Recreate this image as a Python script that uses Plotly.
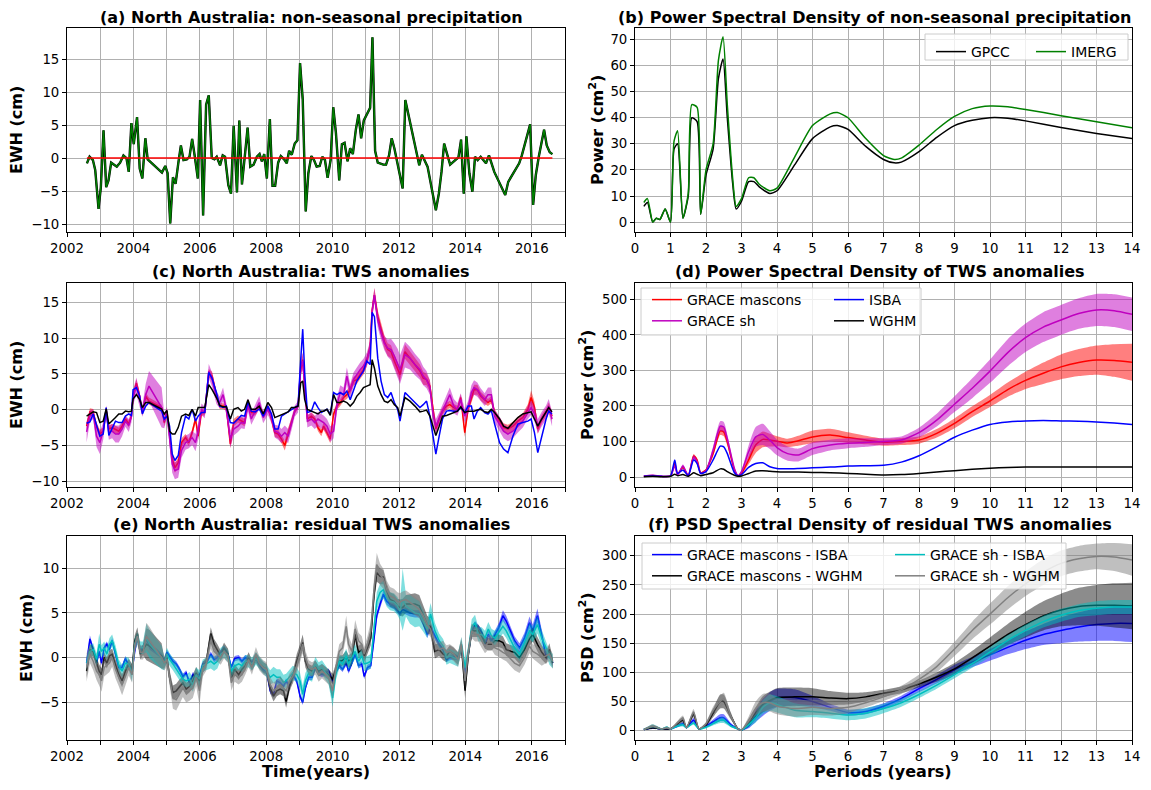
import plotly.graph_objects as go
from plotly.subplots import make_subplots

# the page body keeps an 8 px margin, so the figure is drawn 8 px in from the window edge
PAGE_W, PAGE_H, OFF = 1151, 790, 8
W, H = PAGE_W - 2 * OFF, PAGE_H - 2 * OFF


def px(x):
    return (x - OFF) / W


def py(y):
    return 1 - (y - OFF) / H


# ---------------- (a) non-seasonal precipitation ----------------
t_a = [2002.60, 2002.68, 2002.78, 2002.85, 2002.95, 2003.02, 2003.10, 2003.18, 2003.25, 2003.33,
       2003.50, 2003.60, 2003.70, 2003.79, 2003.86, 2003.94, 2004.01, 2004.11, 2004.19, 2004.27,
       2004.36, 2004.43, 2004.86, 2004.96, 2005.03, 2005.11, 2005.19, 2005.27, 2005.36, 2005.43,
       2005.51, 2005.61, 2005.69, 2005.77, 2005.85, 2005.94, 2006.01, 2006.10, 2006.19, 2006.27,
       2006.36, 2006.44, 2006.51, 2006.61, 2006.69, 2006.76, 2006.86, 2006.94, 2007.02, 2007.12,
       2007.19, 2007.27, 2007.37, 2007.44, 2007.52, 2007.62, 2007.72, 2007.80, 2007.87, 2007.94,
       2008.02, 2008.11, 2008.19, 2008.27, 2008.36, 2008.44, 2008.54, 2008.62, 2008.69, 2008.77,
       2008.86, 2008.94, 2009.02, 2009.10, 2009.19, 2009.27, 2009.36, 2009.44, 2009.52, 2009.61,
       2009.69, 2009.77, 2009.85, 2009.94, 2010.02, 2010.10, 2010.20, 2010.28, 2010.36, 2010.45,
       2010.53, 2010.61, 2010.70, 2010.78, 2010.86, 2010.94, 2011.13, 2011.20, 2011.28, 2011.36,
       2011.53, 2011.61, 2011.70, 2011.78, 2011.86, 2011.95, 2012.11, 2012.19, 2012.28, 2012.61,
       2012.69, 2012.78, 2012.86, 2013.11, 2013.20, 2013.28, 2013.36, 2013.46, 2013.54, 2013.79,
       2013.87, 2013.95, 2014.03, 2014.12, 2014.21, 2014.29, 2014.37, 2014.46, 2014.54, 2014.62,
       2014.71, 2014.79, 2014.87, 2015.20, 2015.29, 2015.62, 2015.70, 2015.95, 2016.04, 2016.12,
       2016.21, 2016.37, 2016.45, 2016.54, 2016.62]
precip = [-0.8, 0.2, -0.3, -1.8, -7.7, -4.4, 4.2, -4.4, -3.4, -0.7,
          -1.3, -0.7, 0.4, 0.0, -2.1, 5.3, 2.1, 6.2, -1.6, -3.1,
          3.0, -0.2, -2.2, -1.2, -2.3, -9.9, -2.9, -3.9, -0.5, 1.9,
          -0.3, -0.2, 0.2, 2.9, 0.2, -3.1, 8.8, -8.7, 8.1, 9.5,
          0.0, -0.2, 0.2, -1.1, 0.4, 0.2, -4.1, -5.4, 4.9, -5.2,
          5.7, -4.0, 1.0, 4.6, -1.3, -1.0, 0.2, 0.6, -0.5, 0.6,
          -3.1, 5.9, -4.2, -4.2, -0.7, 0.3, -0.2, -0.8, 1.1, 0.5,
          2.2, 2.7, 14.4, 8.9, -8.1, -2.3, 0.3, -0.3, -1.3, -1.2,
          0.2, -0.3, -3.0, -0.3, 7.7, 3.8, -3.4, 2.1, 2.3, -0.5,
          1.5, 0.6, 4.3, 6.6, 3.0, 5.7, 7.6, 18.3, 1.1, -0.7,
          -1.0, -1.0, 0.4, 3.0, 1.5, -0.6, -4.6, 8.8, 6.6, -1.1,
          0.5, -0.5, -1.3, -7.9, -5.4, -2.1, 2.2, 0.4, -1.0, 0.1,
          2.8, -5.4, 3.3, -2.3, -5.1, 0.2, -0.3, 0.2, -0.4, -0.8,
          0.4, -0.8, -2.1, -5.6, -3.6, -0.8, 0.4, 5.1, -7.1, -2.6,
          0.2, 4.3, 1.9, 0.9, 0.6]
zero_t = [2002.60, 2016.62]
zero_v = [0.0, 0.0]

# ---------------- (c) TWS anomalies ----------------
t_c = [2002.59, 2002.69, 2002.79, 2002.89, 2002.99, 2003.09, 2003.18, 2003.26, 2003.36, 2003.46,
       2003.56, 2003.66, 2003.76, 2003.86, 2003.94, 2003.99, 2004.09, 2004.19, 2004.27, 2004.37,
       2004.47, 2004.85, 2004.93, 2005.01, 2005.09, 2005.17, 2005.25, 2005.35, 2005.45, 2005.57,
       2005.67, 2005.77, 2005.87, 2005.95, 2006.05, 2006.15, 2006.27, 2006.37, 2006.50, 2006.60,
       2006.70, 2006.80, 2006.92, 2007.02, 2007.15, 2007.25, 2007.35, 2007.45, 2007.55, 2007.67,
       2007.79, 2007.91, 2008.05, 2008.16, 2008.26, 2008.36, 2008.46, 2008.56, 2008.66, 2008.76,
       2008.86, 2008.96, 2009.04, 2009.10, 2009.16, 2009.24, 2009.36, 2009.46, 2009.56, 2009.66,
       2009.73, 2009.83, 2009.93, 2010.03, 2010.13, 2010.23, 2010.33, 2010.43, 2010.53, 2010.63,
       2010.73, 2010.83, 2010.93, 2011.03, 2011.13, 2011.19, 2011.26, 2011.36, 2011.46, 2011.56,
       2011.66, 2011.76, 2011.86, 2011.96, 2012.03, 2012.18, 2012.33, 2012.48, 2012.63, 2012.73,
       2012.83, 2012.93, 2013.03, 2013.11, 2013.21, 2013.31, 2013.43, 2013.53, 2013.65, 2013.76,
       2013.86, 2013.98, 2014.08, 2014.18, 2014.26, 2014.36, 2014.46, 2014.58, 2014.68, 2014.78,
       2014.88, 2015.03, 2015.15, 2015.28, 2015.43, 2015.58, 2015.73, 2015.88, 2015.98, 2016.08,
       2016.18, 2016.30, 2016.43, 2016.51, 2016.61]
tws_mascons = [-2.3, -0.3, -0.4, -2.3, -3.4, -3.0, 0.05, -2.7, -2.5, -2.7,
               -3.0, -2.3, -1.3, -2.0, -0.9, 1.9, 3.7, 1.9, -0.4, 1.9,
               1.2, 0.3, -1.8, -0.2, -3.7, -6.9, -8.1, -7.4, -4.6, -3.9,
               -4.6, -3.2, -1.3, -3.7, -0.4, -0.4, 5.1, 4.7, 2.1, 0.5,
               0.5, 0.3, -4.8, -1.8, -1.3, -1.6, -1.8, 1.0, -0.4, -0.4,
               0.5, -0.6, 0.3, -1.3, -3.2, -3.4, -4.1, -5.0, -3.2, -1.8,
               -0.2, 0.5, 5.6, 7.0, 3.3, -1.3, -0.9, -1.3, -2.5, -3.2,
               -2.3, -3.2, -4.1, -0.6, 0.5, 1.0, 1.7, 2.1, 2.8, 4.0,
               4.2, 4.9, 5.6, 6.8, 8.8, 13.9, 16.0, 13.0, 11.2, 9.5,
               8.4, 8.1, 6.8, 5.8, 4.9, 8.1, 7.2, 6.3, 5.4, 4.4,
               4.2, 3.3, -0.4, -2.7, -1.3, -0.2, 0.5, 0.7, 0.3, 0.05,
               1.7, -3.2, 0.05, 1.7, 2.8, 2.8, 1.9, 1.4, 1.0, 1.4,
               -0.4, -1.6, -2.5, -2.7, -2.3, -1.6, -1.1, 0.05, 1.7, 0.3,
               -2.7, -1.3, -0.4, 0.3, -0.9]
tws_mascons_err = [0.5, 0.5, 0.5, 0.5, 0.6, 0.5, 0.4, 0.5, 0.5, 0.5,
                   0.5, 0.5, 0.4, 0.5, 0.4, 0.5, 0.6, 0.5, 0.4, 0.5,
                   0.5, 0.4, 0.5, 0.4, 0.6, 0.7, 0.7, 0.7, 0.6, 0.5,
                   0.5, 0.5, 0.5, 0.5, 0.4, 0.4, 0.6, 0.6, 0.5, 0.4,
                   0.4, 0.4, 0.6, 0.5, 0.5, 0.5, 0.5, 0.5, 0.4, 0.4,
                   0.4, 0.4, 0.4, 0.5, 0.6, 0.6, 0.6, 0.7, 0.6, 0.5,
                   0.4, 0.4, 0.7, 0.8, 0.6, 0.5, 0.5, 0.5, 0.5, 0.5,
                   0.5, 0.5, 0.6, 0.5, 0.5, 0.5, 0.5, 0.6, 0.6, 0.6,
                   0.6, 0.6, 0.7, 0.7, 0.8, 0.9, 1.0, 0.9, 0.9, 0.9,
                   0.9, 0.9, 0.9, 0.9, 0.9, 1.0, 1.0, 1.0, 0.9, 0.9,
                   0.8, 0.8, 0.7, 0.6, 0.6, 0.5, 0.5, 0.5, 0.5, 0.5,
                   0.5, 0.6, 0.5, 0.6, 0.7, 0.7, 0.6, 0.6, 0.5, 0.5,
                   0.5, 0.5, 0.6, 0.6, 0.6, 0.6, 0.6, 0.7, 1.0, 0.8,
                   0.7, 0.6, 0.6, 0.7, 0.6]
tws_sh = [-3.1, -0.9, -0.6, -3.7, -4.6, -3.0, -0.2, -3.2, -3.0, -3.4,
          -3.4, -2.7, -1.6, -2.2, -1.0, 1.7, 3.3, 1.4, -0.2, 2.1,
          3.3, 0.3, -1.6, -0.4, -4.1, -7.6, -8.5, -8.3, -5.7, -4.6,
          -4.4, -3.9, -4.6, -3.0, 0.05, -0.4, 5.4, 4.2, 1.7, 1.0,
          2.1, 0.05, -4.1, -2.7, -2.3, -1.8, -1.9, 0.7, -1.3, -0.2,
          1.0, -1.1, 0.05, -1.1, -3.0, -3.2, -3.7, -3.2, -3.7, -2.0,
          -0.2, 0.4, 6.1, 6.8, 2.8, -1.6, -1.3, -1.8, -1.3, -1.6,
          -1.8, -2.3, -3.4, -3.0, 0.7, 2.4, 2.1, 4.7, 2.6, 4.2,
          4.9, 5.6, 6.1, 7.0, 8.6, 13.7, 16.0, 12.5, 10.7, 9.3,
          8.6, 8.4, 7.5, 6.5, 5.6, 7.7, 7.2, 6.3, 5.6, 4.7,
          4.2, 3.1, -0.9, -2.3, -1.3, -0.2, 1.0, 2.1, 0.5, 0.05,
          1.4, -0.9, 0.3, 2.4, 3.1, 2.8, 2.1, 1.4, 2.1, 2.1,
          -0.9, -2.0, -3.0, -3.4, -3.0, -2.3, -1.6, -0.4, 0.3, -0.6,
          -2.3, -1.3, -0.4, 0.5, -1.3]
tws_sh_err = [1.5, 0.8, 0.7, 1.5, 1.6, 1.2, 0.8, 1.0, 1.0, 1.2,
              1.2, 1.0, 0.8, 0.9, 0.8, 1.0, 1.2, 1.0, 0.8, 1.5,
              2.1, 2.8, 1.0, 0.8, 1.2, 1.2, 1.2, 1.2, 1.0, 1.0,
              1.0, 1.0, 1.2, 1.2, 0.8, 0.8, 1.0, 1.0, 0.9, 0.8,
              1.0, 0.8, 1.2, 0.9, 0.8, 0.8, 0.8, 0.9, 0.8, 0.8,
              0.9, 0.8, 0.8, 0.8, 0.9, 1.0, 1.0, 1.0, 1.0, 0.9,
              0.8, 0.8, 1.2, 1.2, 1.0, 0.9, 0.9, 0.9, 1.0, 1.0,
              1.0, 1.0, 1.1, 1.0, 1.0, 1.0, 1.0, 1.2, 1.0, 1.0,
              1.0, 1.0, 1.0, 1.0, 1.0, 1.0, 1.0, 1.0, 1.0, 1.0,
              1.2, 1.5, 1.8, 2.0, 2.0, 1.8, 1.6, 1.5, 1.4, 1.3,
              1.2, 1.0, 1.0, 1.0, 0.9, 0.9, 1.0, 1.0, 1.0, 0.9,
              0.9, 1.0, 0.9, 1.0, 1.0, 1.0, 0.9, 0.9, 1.0, 1.0,
              0.9, 1.0, 1.0, 1.0, 1.0, 0.9, 0.9, 0.9, 1.0, 1.0,
              1.0, 1.0, 1.0, 1.0, 1.0]
tws_isba = [-1.9, -1.7, -0.6, -2.3, -3.7, -3.4, 0.3, -3.6, -2.5, -1.6,
            -1.8, -1.8, -0.9, -0.6, -0.8, 2.8, 3.1, 1.9, -0.6, 0.5,
            1.0, -0.2, -1.3, -0.9, -2.3, -6.2, -7.1, -6.4, -3.2, -0.9,
            -1.3, 0.05, -1.6, -0.9, -0.4, -0.4, 5.2, 4.4, 2.4, 0.5,
            0.3, 0.5, -1.8, -1.9, -1.3, -0.8, -0.9, 1.1, -0.2, -0.3,
            0.1, -0.9, 0.5, -0.6, -2.7, -2.7, -0.9, -0.6, -0.4, -0.05,
            0.3, 0.6, 7.0, 11.25, 5.1, -0.4, -0.2, 1.1, 0.3, -0.4,
            -0.2, 0.05, -0.6, 2.4, 2.1, 2.4, 2.1, 2.6, 1.4, 2.8,
            4.0, 4.7, 5.4, 6.8, 6.3, 13.6, 13.0, 7.2, 4.0, 2.1,
            1.7, 2.4, 1.0, 0.05, -1.6, 2.4, 1.7, 1.0, 0.3, 0.7,
            1.2, -0.9, -3.7, -6.2, -3.7, -1.3, -0.2, -0.1, -0.2, -0.2,
            0.3, -0.4, 0.5, 0.5, -1.3, -0.2, 0.3, -0.4, -0.6, -0.1,
            -2.0, -4.6, -5.5, -6.0, -3.7, -2.0, -1.8, -1.6, -1.3, -3.2,
            -6.0, -3.7, -1.3, -0.2, -0.6]
tws_wghm = [-0.9, -0.6, -0.3, -0.4, -1.8, -1.6, 0.1, -2.0, -1.6, -1.1,
            -0.6, -0.6, -0.2, -0.3, -0.2, 1.5, 2.1, 1.4, 0.3, 1.0,
            1.0, 0.1, -0.6, -0.1, -3.0, -3.4, -3.4, -2.5, -0.9, -0.6,
            -0.8, 0.05, -0.9, 0.3, 0.3, 0.3, 3.5, 2.8, 1.7, 0.6,
            0.4, 0.4, -1.3, 0.05, 0.3, -0.2, 0.05, 1.4, 0.05, 0.05,
            0.5, -0.6, 1.0, 0.3, -1.1, -0.9, -0.6, -0.4, -0.3, 0.3,
            0.3, 0.5, 3.75, 4.0, 1.4, 0.05, -0.2, -0.4, -0.6, -0.2,
            -0.2, 0.05, -0.8, 2.1, 1.0, 1.0, 1.2, 1.0, 0.5, 1.0,
            1.9, 2.4, 3.1, 3.3, 3.5, 7.0, 5.8, 3.3, 2.1, 1.2,
            1.0, 1.4, 0.7, 0.3, -0.9, 1.7, 1.2, 0.5, -0.3, -0.2,
            -0.05, -0.9, -2.3, -3.6, -2.3, -0.9, -0.8, -0.6, -0.4, -0.2,
            0.4, -0.4, -0.2, -0.2, -0.2, -0.05, 0.05, -0.3, -0.4, 0.05,
            -0.4, -1.3, -2.3, -2.6, -1.8, -1.1, -0.6, -0.4, -0.3, -1.3,
            -2.3, -1.3, -0.4, 0.3, -0.3]

# ---------------- (e) residual TWS anomalies ----------------
t_e = [2002.59, 2002.69, 2002.79, 2002.89, 2002.97, 2003.04, 2003.12, 2003.20, 2003.28, 2003.36,
       2003.46, 2003.56, 2003.66, 2003.76, 2003.86, 2003.96, 2004.04, 2004.12, 2004.21, 2004.29,
       2004.39, 2004.49, 2004.85, 2004.93, 2005.01, 2005.09, 2005.19, 2005.29, 2005.39, 2005.49,
       2005.59, 2005.69, 2005.79, 2005.89, 2005.99, 2006.09, 2006.19, 2006.33, 2006.43, 2006.53,
       2006.63, 2006.73, 2006.85, 2006.95, 2007.05, 2007.17, 2007.27, 2007.37, 2007.47, 2007.57,
       2007.69, 2007.79, 2007.91, 2008.01, 2008.12, 2008.22, 2008.32, 2008.42, 2008.52, 2008.60,
       2008.70, 2008.80, 2008.92, 2009.02, 2009.10, 2009.18, 2009.28, 2009.38, 2009.48, 2009.58,
       2009.68, 2009.88, 2010.00, 2010.10, 2010.20, 2010.30, 2010.41, 2010.48, 2010.58, 2010.68,
       2010.78, 2010.88, 2010.95, 2011.05, 2011.15, 2011.25, 2011.33, 2011.43, 2011.53, 2011.63,
       2011.73, 2011.85, 2011.95, 2012.03, 2012.11, 2012.21, 2012.33, 2012.48, 2012.61, 2012.73,
       2012.85, 2012.95, 2013.08, 2013.21, 2013.33, 2013.43, 2013.53, 2013.65, 2013.78, 2013.88,
       2013.99, 2014.09, 2014.19, 2014.29, 2014.39, 2014.49, 2014.59, 2014.69, 2014.79, 2014.89,
       2015.01, 2015.13, 2015.23, 2015.38, 2015.48, 2015.63, 2015.78, 2015.93, 2016.03, 2016.17,
       2016.30, 2016.43, 2016.53, 2016.63]
res_mas_isba = [-0.6, 2.1, 0.9, -0.6, 0.7, -0.6, 1.1, 1.5, 0.9, 1.9,
                0.4, -1.1, -1.1, -0.1, -0.9, -1.5, 0.7, 2.2, 0.9, 1.1,
                2.2, 1.3, 0.2, -0.4, 0.6, 0.2, -0.4, -0.7, -1.3, -2.1,
                -1.7, -2.8, -1.9, -2.2, -2.1, -0.7, -0.6, 0.4, -0.2, 0.0,
                0.6, 1.1, 0.4, -1.1, -0.1, 0.0, -0.4, 0.0, -0.2, -0.6,
                0.0, -0.7, -1.3, -1.5, -3.7, -4.1, -2.6, -2.8, -3.2, -2.6,
                -3.2, -1.9, -2.6, -4.3, -5.0, -3.4, -2.2, -2.2, -1.1, -1.7,
                -1.9, -1.5, -2.6, -1.5, -0.9, -1.3, -0.6, -1.5, -0.6, 0.4,
                -0.9, -0.7, -2.1, -1.1, -0.9, 1.9, 4.7, 6.0, 7.1, 6.3,
                6.0, 5.8, 5.4, 5.0, 5.4, 5.2, 5.0, 4.9, 4.9, 3.9,
                2.6, 3.4, 2.4, 1.5, 0.9, -0.2, 0.0, 0.1, 0.0, 1.1,
                -1.9, 0.7, 3.0, 3.7, 3.2, 2.8, 1.5, 2.6, 1.9, 2.6,
                3.4, 4.7, 4.1, 2.8, 1.9, 1.1, 2.2, 3.9, 3.0, 4.7,
                2.6, 0.2, 0.6, -0.6]
res_mas_isba_err = [0.4, 0.4, 0.3, 0.3, 0.3, 0.3, 0.3, 0.3, 0.3, 0.3,
                    0.3, 0.3, 0.3, 0.3, 0.3, 0.3, 0.3, 0.3, 0.3, 0.3,
                    0.4, 0.4, 0.3, 0.3, 0.3, 0.3, 0.3, 0.3, 0.3, 0.3,
                    0.3, 0.3, 0.3, 0.3, 0.3, 0.3, 0.3, 0.3, 0.3, 0.3,
                    0.3, 0.3, 0.3, 0.3, 0.3, 0.3, 0.3, 0.3, 0.3, 0.3,
                    0.3, 0.3, 0.3, 0.3, 0.3, 0.3, 0.3, 0.3, 0.3, 0.3,
                    0.3, 0.3, 0.3, 0.3, 0.3, 0.3, 0.3, 0.3, 0.3, 0.3,
                    0.3, 0.3, 0.3, 0.3, 0.3, 0.3, 0.3, 0.3, 0.3, 0.3,
                    0.3, 0.3, 0.3, 0.3, 0.3, 0.4, 0.4, 0.4, 0.4, 0.4,
                    0.4, 0.4, 0.4, 0.4, 0.4, 0.4, 0.4, 0.4, 0.4, 0.4,
                    0.4, 0.4, 0.4, 0.3, 0.3, 0.3, 0.3, 0.3, 0.3, 0.3,
                    0.3, 0.3, 0.4, 0.4, 0.4, 0.4, 0.4, 0.4, 0.4, 0.4,
                    0.5, 0.6, 0.6, 0.5, 0.5, 0.5, 0.6, 0.7, 0.7, 0.8,
                    0.6, 0.5, 0.4, 0.3]
res_mas_wghm = [-1.5, 0.9, 0.7, -0.6, -1.5, -1.9, 0.0, -0.6, 0.2, 0.4,
                -0.7, -1.9, -2.6, -1.5, -0.7, -1.3, 1.9, 2.7, 0.4, 0.9,
                1.5, 1.3, 0.2, -0.6, 0.0, -2.2, -3.9, -3.7, -3.2, -2.8,
                -3.5, -3.2, -2.6, -1.7, -2.6, -1.1, -0.6, 2.7, 1.5, 0.9,
                0.2, 1.1, 0.4, -2.2, -1.3, -1.9, -1.3, -0.9, 0.0, -0.9,
                0.0, -0.6, -1.1, -1.3, -3.4, -4.3, -3.7, -3.5, -3.7, -4.9,
                -3.2, -2.2, -0.4, 0.7, 1.7, -0.4, -1.3, -1.5, -0.9, -1.5,
                -1.3, -1.9, -2.4, -1.3, -0.4, -0.3, 0.0, -0.4, -0.2, 2.6,
                0.6, 0.9, 0.2, 1.1, 2.2, 7.1, 9.5, 9.1, 9.0, 7.5,
                6.5, 6.3, 5.8, 5.6, 5.6, 6.0, 6.0, 6.0, 5.8, 4.7,
                3.7, 3.5, 0.7, 0.9, 0.4, 0.2, 0.7, 0.4, -0.1, 1.3,
                -3.7, 0.4, 3.0, 3.0, 3.0, 2.4, 1.7, 1.5, 1.5, 1.9,
                1.9, 1.7, 0.9, 0.7, 0.6, 0.0, 0.9, 2.1, 2.6, 1.5,
                0.6, 0.0, 0.9, -0.6]
res_mas_wghm_err = [0.8, 0.6, 0.6, 0.6, 0.7, 0.7, 0.6, 0.6, 0.6, 0.6,
                    0.6, 0.6, 0.7, 0.6, 0.6, 0.6, 0.6, 0.7, 0.6, 0.6,
                    1.8, 1.8, 1.4, 0.6, 0.6, 0.7, 0.8, 0.8, 0.8, 0.7,
                    0.7, 0.7, 0.7, 0.7, 0.8, 0.6, 0.6, 0.7, 0.6, 0.6,
                    0.6, 0.6, 0.6, 0.7, 0.6, 0.6, 0.6, 0.6, 0.6, 0.6,
                    0.6, 0.6, 0.6, 0.6, 0.6, 0.6, 0.6, 0.6, 0.6, 0.7,
                    0.6, 0.6, 0.8, 0.8, 0.9, 0.7, 0.6, 0.6, 0.6, 0.6,
                    0.6, 0.6, 0.6, 0.6, 0.6, 0.6, 0.8, 0.7, 0.7, 0.8,
                    0.7, 0.7, 0.7, 0.7, 0.8, 0.9, 1.0, 0.9, 0.8, 0.8,
                    0.8, 0.8, 0.8, 0.9, 1.0, 1.0, 1.1, 1.2, 1.2, 1.2,
                    1.0, 0.9, 0.8, 0.7, 0.7, 0.7, 0.7, 0.7, 0.7, 0.7,
                    0.8, 0.7, 0.7, 0.7, 0.7, 0.7, 0.7, 0.7, 0.7, 0.7,
                    0.7, 0.7, 0.7, 0.7, 0.7, 0.7, 0.7, 0.8, 0.8, 0.8,
                    0.8, 0.7, 0.7, 0.6]
res_sh_isba = [-0.6, 0.7, 0.9, -0.2, 1.5, 0.7, 1.1, 0.4, 1.5, 1.9,
               0.7, -0.9, -1.5, -0.6, -0.7, -1.9, 1.5, 2.2, 1.1, 1.1,
               2.2, 1.5, 0.0, -0.7, 0.4, -0.2, -0.7, -1.3, -1.9, -2.4,
               -2.6, -2.4, -3.0, -1.9, -2.4, -0.9, -0.7, -0.4, -0.7, -0.4,
               0.4, 0.7, 0.2, -1.5, -0.9, -0.7, -0.9, -0.4, -0.4, -0.7,
               -0.1, -0.6, -1.1, -1.5, -2.2, -1.9, -2.2, -2.2, -2.8, -2.6,
               -2.2, -1.7, -1.9, -2.6, -4.1, -2.6, -1.7, -1.9, -0.7, -1.3,
               -1.1, -2.2, -4.5, -1.7, -0.4, -0.7, 0.2, -0.7, 0.0, 0.7,
               -0.4, 0.2, -0.7, -0.6, -0.4, 3.7, 6.3, 7.3, 7.6, 6.7,
               6.3, 6.2, 5.8, 5.2, 6.5, 5.8, 5.4, 5.0, 4.9, 4.1,
               3.2, 4.9, 3.0, 1.9, 1.3, 0.0, 0.2, 0.0, -0.2, 1.5,
               -1.1, 0.7, 3.4, 3.9, 2.6, 2.6, 2.2, 3.2, 2.4, 2.2,
               2.8, 3.5, 3.0, 1.9, 1.1, 0.4, 1.7, 3.0, 2.6, 3.7,
               2.2, 1.1, 0.0, -0.4]
res_sh_isba_err = [0.7, 0.7, 0.7, 0.7, 1.2, 0.7, 0.7, 0.7, 0.7, 0.7,
                   0.7, 0.7, 0.7, 0.7, 0.7, 0.8, 0.7, 0.7, 0.7, 0.7,
                   1.6, 1.6, 1.3, 0.7, 0.7, 0.7, 0.7, 0.7, 0.7, 0.7,
                   0.7, 0.8, 0.8, 0.8, 1.0, 0.7, 0.7, 0.8, 0.8, 0.8,
                   0.7, 0.7, 0.7, 0.7, 0.7, 0.7, 0.7, 0.7, 0.7, 0.7,
                   0.7, 0.7, 0.7, 0.7, 0.8, 0.9, 0.9, 0.9, 0.9, 0.8,
                   0.8, 0.8, 0.8, 0.9, 1.0, 0.9, 0.8, 0.8, 0.8, 0.8,
                   0.8, 0.8, 1.0, 0.8, 0.8, 0.8, 0.8, 0.8, 0.8, 0.8,
                   0.8, 0.8, 0.8, 0.8, 0.8, 0.9, 1.0, 1.0, 1.0, 1.0,
                   1.0, 1.0, 1.0, 1.0, 3.5, 1.2, 1.6, 1.6, 1.4, 1.2,
                   1.0, 1.2, 0.9, 0.8, 0.8, 0.8, 0.8, 0.8, 0.8, 0.8,
                   0.8, 0.8, 0.9, 0.9, 0.8, 0.8, 0.8, 0.8, 0.8, 0.8,
                   0.8, 0.8, 0.8, 0.8, 0.8, 0.8, 0.8, 0.9, 0.9, 1.0,
                   0.9, 0.8, 0.8, 0.8]
res_sh_wghm = [-1.1, 0.4, -0.4, -1.5, -1.9, -2.6, -1.1, -0.9, -0.6, 0.0,
               -1.3, -2.2, -3.0, -2.1, -1.1, -1.9, 1.3, 2.4, 0.6, 0.6,
               2.4, 1.9, 0.0, -0.6, -0.2, -2.2, -4.5, -4.7, -4.1, -3.4,
               -3.9, -3.7, -3.4, -2.2, -3.7, -1.3, -0.7, 1.9, 0.7, 0.4,
               0.0, 0.7, 0.2, -2.8, -1.9, -2.2, -1.9, -1.1, -0.2, -1.1,
               0.4, -0.6, -1.1, -1.3, -3.0, -3.7, -3.4, -3.0, -3.4, -3.7,
               -2.6, -2.1, -0.9, 0.4, 1.5, 0.0, -1.1, -1.3, -1.1, -1.9,
               -1.5, -2.2, -3.7, -1.1, 0.7, 1.1, 3.5, 1.5, 0.7, 3.2,
               1.9, 1.5, 0.4, 1.5, 3.0, 7.8, 10.4, 9.3, 8.8, 7.6,
               6.9, 6.7, 6.3, 6.2, 6.4, 6.5, 6.2, 5.8, 5.4, 4.7,
               3.7, 3.2, 1.5, 0.9, 1.1, 0.6, 0.7, 0.4, -0.2, 1.5,
               -2.6, 0.7, 3.0, 2.6, 2.6, 1.9, 1.3, 1.7, 1.7, 1.1,
               0.9, 0.6, 0.4, -0.2, -0.6, -0.9, 0.0, 1.3, 0.7, 0.4,
               0.0, 0.2, 0.4, -0.4]
res_sh_wghm_err = [1.6, 1.0, 1.0, 1.0, 1.2, 1.2, 1.0, 1.0, 1.0, 1.0,
                   1.0, 1.0, 1.2, 1.0, 0.9, 0.9, 0.8, 0.9, 0.8, 0.8,
                   1.5, 1.5, 1.2, 0.8, 0.8, 0.9, 1.2, 1.2, 1.0, 1.0,
                   1.1, 1.1, 1.1, 1.0, 1.6, 0.8, 0.8, 0.9, 0.8, 0.8,
                   0.8, 0.8, 0.8, 0.9, 0.8, 0.8, 0.8, 0.8, 0.8, 0.8,
                   0.8, 0.8, 0.8, 0.8, 0.8, 0.9, 0.9, 0.9, 0.9, 0.9,
                   0.8, 0.8, 0.8, 0.9, 1.0, 0.8, 0.8, 0.8, 0.8, 0.8,
                   0.8, 0.8, 0.9, 0.8, 0.8, 0.8, 1.2, 0.9, 0.8, 1.0,
                   0.9, 0.9, 0.8, 0.9, 1.0, 1.2, 1.3, 1.2, 1.1, 1.0,
                   1.0, 1.0, 1.0, 1.0, 1.0, 1.0, 1.0, 1.0, 1.0, 0.9,
                   0.9, 0.9, 0.8, 0.8, 0.8, 0.8, 0.8, 0.8, 0.8, 0.8,
                   0.9, 0.8, 0.8, 0.8, 0.8, 0.8, 0.8, 0.8, 0.8, 0.8,
                   0.8, 0.8, 0.8, 0.8, 0.8, 0.8, 0.8, 0.8, 0.8, 0.9,
                   0.9, 0.8, 0.8, 0.8]

# ---------------- (b) PSD precipitation ----------------
period_b = [0.25, 0.35, 0.5, 0.6, 0.7, 0.85, 1.0, 1.1, 1.2, 1.35,
            1.5, 1.6, 1.75, 1.85, 2.0, 2.2, 2.35, 2.48, 2.6, 2.75,
            2.85, 3.0, 3.2, 3.35, 3.5, 3.8, 4.0, 4.5, 5.0, 5.5,
            5.7, 6.0, 6.5, 7.0, 7.3, 7.5, 8.0, 8.5, 9.0, 9.5,
            10.0, 10.5, 11.0, 12.0, 13.0, 14.0]
psd_gpcc = [6, 7.5, 0, 1.5, 1, 5, 0, 28, 30, 1.5,
            10, 40, 38.5, 3, 18, 28, 55, 62.5, 40, 15,
            5, 8, 15.5, 15.5, 13.5, 11, 12, 22, 32, 36.5,
            37, 35.5, 29, 24, 22.7, 23, 27, 32.5, 37, 39,
            40, 39.8, 38.8, 36.3, 34, 32]
psd_imerg = [7.5, 9, 0, 1.5, 1, 5, 0, 31, 35, 1.5,
             11, 45, 44, 3, 20, 30, 62, 71, 45, 17,
             6, 9, 17, 17, 14.5, 12, 13, 25, 37, 41.5,
             42, 40, 32, 25.5, 24, 24.5, 29.5, 35.5, 40.5, 43.5,
             44.5, 44.2, 43.2, 40.8, 38.5, 36.2]

# ---------------- (d) PSD TWS ----------------
period_d = [0.25, 0.5, 0.75, 1.0, 1.12, 1.2, 1.35, 1.5, 1.65, 1.75,
            1.85, 2.0, 2.2, 2.4, 2.5, 2.6, 2.8, 2.9, 3.0, 3.2,
            3.4, 3.6, 3.8, 4.0, 4.3, 4.6, 5.0, 5.5, 6.0, 6.5,
            7.0, 7.5, 8.0, 8.5, 9.0, 9.5, 10.0, 10.5, 11.0, 11.5,
            12.0, 12.5, 13.0, 13.5, 14.0]
psd_mascons = [2, 4, 2, 3, 38, 8, 27, 4, 59, 48,
               12, 20, 66, 130, 127, 99, 20, 4, 10, 48,
               90, 106, 104, 101, 96, 102, 113, 118, 111, 104,
               98, 100, 104, 123, 151, 184, 214, 246, 272, 292,
               310, 322, 329, 328, 323]
psd_mascons_err = [1, 1, 1, 1, 4, 2, 4, 1, 6, 5,
                   2, 3, 8, 12, 12, 10, 3, 1, 3, 12,
                   22, 22, 18, 14, 12, 14, 18, 18, 15, 12,
                   10, 10, 10, 12, 14, 15, 17, 20, 24, 30,
                   35, 38, 41, 46, 52]
psd_sh = [3, 5, 2, 3, 31, 6, 31, 4, 55, 43,
          10, 18, 76, 143, 141, 108, 24, 4, 15, 71,
          113, 120, 104, 83, 66, 62, 80, 90, 95, 97,
          100, 104, 125, 160, 205, 250, 298, 350, 392, 422,
          442, 460, 470, 468, 458]
psd_sh_err = [2, 2, 1, 2, 4, 2, 5, 1, 7, 6,
              2, 3, 10, 14, 14, 12, 4, 1, 4, 18,
              28, 30, 25, 22, 20, 18, 18, 15, 14, 12,
              10, 10, 14, 18, 22, 28, 33, 38, 40, 42,
              42, 43, 45, 46, 47]
psd_isba = [2, 3, 2, 3, 48, 10, 20, 4, 48, 38,
            10, 15, 48, 87, 85, 66, 12, 4, 7, 27,
            38, 40, 29, 24, 23, 24, 26, 28, 31, 32,
            33, 42, 60, 85, 112, 132, 148, 155, 158, 159,
            158, 157, 155, 152, 148]
psd_wghm = [1, 2, 1, 2, 8, 4, 7, 2, 12, 8,
            4, 7, 12, 23, 22, 15, 5, 2, 3, 10,
            17, 18, 16, 15, 14, 14, 13, 12, 10, 8,
            6, 7, 10, 14, 18, 22, 25, 27, 28, 28,
            28, 28, 28, 28, 28]

# ---------------- (f) PSD residual TWS ----------------
period_f = [0.25, 0.5, 0.75, 0.9, 1.0, 1.2, 1.35, 1.45, 1.65, 1.8,
            2.0, 2.2, 2.4, 2.5, 2.7, 2.9, 3.0, 3.2, 3.4, 3.6,
            3.8, 4.0, 4.5, 5.0, 5.5, 6.0, 6.5, 7.0, 7.5, 8.0,
            8.5, 9.0, 9.5, 10.0, 10.5, 11.0, 11.5, 12.0, 12.5, 13.0,
            13.5, 14.0]
psd_mas_isba = [2, 5, 3, 3, 3, 8, 12, 5, 18, 3,
                8, 15, 22, 22, 10, 3, 1, 8, 25, 40,
                50, 56, 57, 50, 40, 31, 33, 42, 55, 72,
                88, 105, 118, 130, 143, 155, 165, 172, 178, 182,
                184, 184]
psd_mas_isba_err = [1, 2, 1, 1, 1, 2, 3, 1, 4, 1,
                    2, 4, 6, 6, 3, 1, 1, 4, 10, 15,
                    16, 16, 14, 10, 6, 5, 5, 5, 5, 6,
                    7, 8, 9, 10, 12, 15, 18, 22, 25, 28,
                    30, 32]
psd_mas_wghm = [2, 5, 3, 3, 3, 12, 18, 5, 28, 3,
                10, 30, 50, 50, 25, 3, 1, 12, 30, 45,
                52, 57, 58, 58, 56, 55, 58, 64, 70, 80,
                92, 106, 125, 145, 165, 182, 197, 207, 213, 215,
                215, 214]
psd_mas_wghm_err = [1, 2, 1, 1, 1, 3, 4, 1, 5, 1,
                    3, 7, 12, 12, 6, 1, 1, 5, 10, 14,
                    15, 16, 16, 15, 12, 10, 8, 6, 6, 6,
                    8, 10, 12, 15, 18, 22, 25, 28, 32, 35,
                    38, 40]
psd_sh_isba = [2, 8, 3, 6, 3, 8, 10, 5, 13, 3,
               6, 12, 18, 18, 8, 3, 1, 10, 22, 40,
               48, 45, 35, 33, 30, 27, 30, 38, 48, 62,
               78, 96, 115, 135, 155, 172, 187, 198, 206, 210,
               212, 212]
psd_sh_isba_err = [1, 3, 1, 2, 1, 2, 3, 1, 3, 1,
                   2, 3, 5, 5, 2, 1, 1, 4, 8, 12,
                   14, 14, 12, 10, 9, 9, 9, 8, 7, 6,
                   6, 6, 7, 8, 9, 10, 10, 11, 11, 12,
                   12, 12]
psd_sh_wghm = [2, 8, 3, 5, 3, 14, 22, 5, 32, 3,
               12, 35, 50, 55, 25, 3, 1, 18, 38, 48,
               48, 42, 38, 40, 38, 40, 48, 58, 70, 88,
               110, 140, 172, 200, 228, 252, 272, 287, 295, 299,
               298, 293]
psd_sh_wghm_err = [1, 3, 1, 2, 1, 3, 4, 1, 5, 1,
                   3, 6, 10, 10, 5, 1, 1, 6, 12, 15,
                   15, 14, 14, 13, 12, 10, 8, 7, 7, 8,
                   10, 12, 15, 18, 20, 21, 22, 22, 22, 22,
                   24, 27]

# ---------------- figure ----------------
fig = make_subplots(rows=3, cols=2)


def add_line(x, y, color, row, col, name=None, legend=None, width=1.5, shape="linear"):
    fig.add_trace(go.Scatter(x=x, y=y, mode="lines", name=name,
                             line=dict(color=color, width=width, shape=shape, smoothing=0.6),
                             showlegend=name is not None, legend=legend, hoverinfo="skip"),
                  row=row, col=col)


def add_band(x, y, err, color, row, col, shape="linear"):
    lo = [v - e for v, e in zip(y, err)]
    hi = [v + e for v, e in zip(y, err)]
    fig.add_trace(go.Scatter(x=x, y=lo, mode="lines", line=dict(width=0, shape=shape, smoothing=0.6),
                             showlegend=False, hoverinfo="skip"), row=row, col=col)
    fig.add_trace(go.Scatter(x=x, y=hi, mode="lines", line=dict(width=0, shape=shape, smoothing=0.6),
                             fill="tonexty", fillcolor=color, showlegend=False, hoverinfo="skip"),
                  row=row, col=col)


RED, MAG, BLUE, BLACK = "#ff0000", "#bf00bf", "#0000ff", "#000000"
CYAN, GRAY, GREEN = "#00bfbf", "#808080", "#008000"

# (a)
add_line(t_a, precip, BLACK, 1, 1, width=2.4)
add_line(t_a, precip, GREEN, 1, 1, width=1.5)
add_line(zero_t, zero_v, RED, 1, 1, width=1.5)

# (b)
add_line(period_b, psd_gpcc, BLACK, 1, 2, name="GPCC", legend="legend", shape="spline")
add_line(period_b, psd_imerg, GREEN, 1, 2, name="IMERG", legend="legend", shape="spline")

# (c)
add_band(t_c, tws_mascons, tws_mascons_err, "rgba(255,0,0,0.5)", 2, 1)
add_line(t_c, tws_mascons, RED, 2, 1)
add_band(t_c, tws_sh, tws_sh_err, "rgba(191,0,191,0.5)", 2, 1)
add_line(t_c, tws_sh, MAG, 2, 1)
add_line(t_c, tws_isba, BLUE, 2, 1)
add_line(t_c, tws_wghm, BLACK, 2, 1)

# (d)
add_band(period_d, psd_mascons, psd_mascons_err, "rgba(255,0,0,0.5)", 2, 2, shape="spline")
add_line(period_d, psd_mascons, RED, 2, 2, name="GRACE mascons", legend="legend2", shape="spline")
add_band(period_d, psd_sh, psd_sh_err, "rgba(191,0,191,0.5)", 2, 2, shape="spline")
add_line(period_d, psd_sh, MAG, 2, 2, name="GRACE sh", legend="legend2", shape="spline")
add_line(period_d, psd_isba, BLUE, 2, 2, name="ISBA", legend="legend3", shape="spline")
add_line(period_d, psd_wghm, BLACK, 2, 2, name="WGHM", legend="legend3", shape="spline")

# (e)
add_band(t_e, res_mas_isba, res_mas_isba_err, "rgba(0,0,255,0.5)", 3, 1)
add_line(t_e, res_mas_isba, BLUE, 3, 1)
add_band(t_e, res_mas_wghm, res_mas_wghm_err, "rgba(0,0,0,0.45)", 3, 1)
add_line(t_e, res_mas_wghm, BLACK, 3, 1)
add_band(t_e, res_sh_isba, res_sh_isba_err, "rgba(0,191,191,0.5)", 3, 1)
add_line(t_e, res_sh_isba, CYAN, 3, 1)
add_band(t_e, res_sh_wghm, res_sh_wghm_err, "rgba(128,128,128,0.5)", 3, 1)
add_line(t_e, res_sh_wghm, GRAY, 3, 1)

# (f)
add_band(period_f, psd_mas_isba, psd_mas_isba_err, "rgba(0,0,255,0.5)", 3, 2, shape="spline")
add_line(period_f, psd_mas_isba, BLUE, 3, 2, name="GRACE mascons - ISBA", legend="legend4", shape="spline")
add_band(period_f, psd_mas_wghm, psd_mas_wghm_err, "rgba(0,0,0,0.45)", 3, 2, shape="spline")
add_line(period_f, psd_mas_wghm, BLACK, 3, 2, name="GRACE mascons - WGHM", legend="legend4", shape="spline")
add_band(period_f, psd_sh_isba, psd_sh_isba_err, "rgba(0,191,191,0.5)", 3, 2, shape="spline")
add_line(period_f, psd_sh_isba, CYAN, 3, 2, name="GRACE sh - ISBA", legend="legend5", shape="spline")
add_band(period_f, psd_sh_wghm, psd_sh_wghm_err, "rgba(128,128,128,0.5)", 3, 2, shape="spline")
add_line(period_f, psd_sh_wghm, GRAY, 3, 2, name="GRACE sh - WGHM", legend="legend5", shape="spline")

# ---------------- axes ----------------
axis_style = dict(showline=True, linecolor="black", linewidth=1, mirror=True,
                  ticks="outside", ticklen=4, tickwidth=1, tickcolor="black",
                  showgrid=True, gridcolor="#b0b0b0", gridwidth=0.8, zeroline=False,
                  automargin=False, tickfont=dict(size=13.3, color="black"))
fig.update_xaxes(**axis_style)
fig.update_yaxes(**axis_style)

col_x = {1: [px(67), px(565)], 2: [px(635), px(1132)]}
row_y = {1: [py(232), py(28)], 2: [py(487), py(283)], 3: [py(740), py(536)]}
y_ranges = {(1, 1): [-11.2, 19.7], (1, 2): [-3.8, 74.4],
            (2, 1): [-10.8, 17.7], (2, 2): [-28, 546],
            (3, 1): [-9.2, 13.6], (3, 2): [-16, 334]}
y_dticks = {(1, 1): 5, (1, 2): 10, (2, 1): 5, (2, 2): 100, (3, 1): 5, (3, 2): 50}
for r in (1, 2, 3):
    for c in (1, 2):
        fig.update_yaxes(domain=row_y[r], range=y_ranges[(r, c)], dtick=y_dticks[(r, c)],
                         tick0=0, row=r, col=c)
        if c == 1:
            fig.update_xaxes(domain=col_x[c], range=[2002, 2017], dtick=2, tick0=2002,
                             minor=dict(dtick=1, tick0=2002, ticks="outside", ticklen=4,
                                        tickcolor="black", showgrid=True,
                                        gridcolor="#b0b0b0", gridwidth=0.8),
                             row=r, col=c)
        else:
            fig.update_xaxes(domain=col_x[c], range=[0, 14], dtick=1, tick0=0, row=r, col=c)

# ---------------- texts ----------------
title_font = dict(family="DejaVu Sans", size=16, color="black", weight="bold")
titles = [
    ("(a) North Australia: non-seasonal precipitation", 311, 17),
    ("(b) Power Spectral Density of non-seasonal precipitation", 874, 17),
    ("(c) North Australia: TWS anomalies", 311, 271),
    ("(d) Power Spectral Density of TWS anomalies", 880, 271),
    ("(e) North Australia: residual TWS anomalies", 311, 524),
    ("(f) PSD Spectral Density of residual TWS anomalies", 880, 524),
]
for text, x, y in titles:
    fig.add_annotation(text=text, x=px(x), y=py(y), xref="paper", yref="paper",
                       showarrow=False, xanchor="center", yanchor="middle", font=title_font)

ylabels = [
    ("EWH (cm)", 16, 130), ("Power (cm<sup>2</sup>)", 596, 130),
    ("EWH (cm)", 16, 385), ("Power (cm<sup>2</sup>)", 586, 385),
    ("EWH (cm)", 26, 638), ("PSD (cm<sup>2</sup>)", 586, 638),
]
for text, x, y in ylabels:
    fig.add_annotation(text=text, x=px(x), y=py(y), xref="paper", yref="paper",
                       showarrow=False, textangle=-90, xanchor="center", yanchor="middle",
                       font=title_font)
for text, x, y in [("Time(years)", 316, 771), ("Periods (years)", 883, 771)]:
    fig.add_annotation(text=text, x=px(x), y=py(y), xref="paper", yref="paper",
                       showarrow=False, xanchor="center", yanchor="middle", font=title_font)

# legend frames
for x0, y0, x1, y1 in [(925, 34, 1128, 60), (641, 288, 921, 335), (642, 543, 1066, 589)]:
    fig.add_shape(type="rect", xref="paper", yref="paper", x0=px(x0), x1=px(x1),
                  y0=py(y1), y1=py(y0), line=dict(color="#cccccc", width=1),
                  fillcolor="rgba(255,255,255,0.8)", layer="above")

leg = dict(bgcolor="rgba(0,0,0,0)", borderwidth=0, font=dict(size=14, color="black"),
           xanchor="left", yanchor="top", itemwidth=30, tracegroupgap=0, traceorder="normal")
fig.update_layout(
    width=W, height=H,
    margin=dict(l=0, r=0, t=0, b=0, autoexpand=False),
    paper_bgcolor="white", plot_bgcolor="white",
    font=dict(family="DejaVu Sans", color="black"),
    legend=dict(leg, x=px(931), y=py(36), orientation="h", entrywidth=55),
    legend2=dict(leg, x=px(647), y=py(284)),
    legend3=dict(leg, x=px(829), y=py(284)),
    legend4=dict(leg, x=px(647), y=py(539)),
    legend5=dict(leg, x=px(890), y=py(539)),
)

fig.write_html("out.html")
